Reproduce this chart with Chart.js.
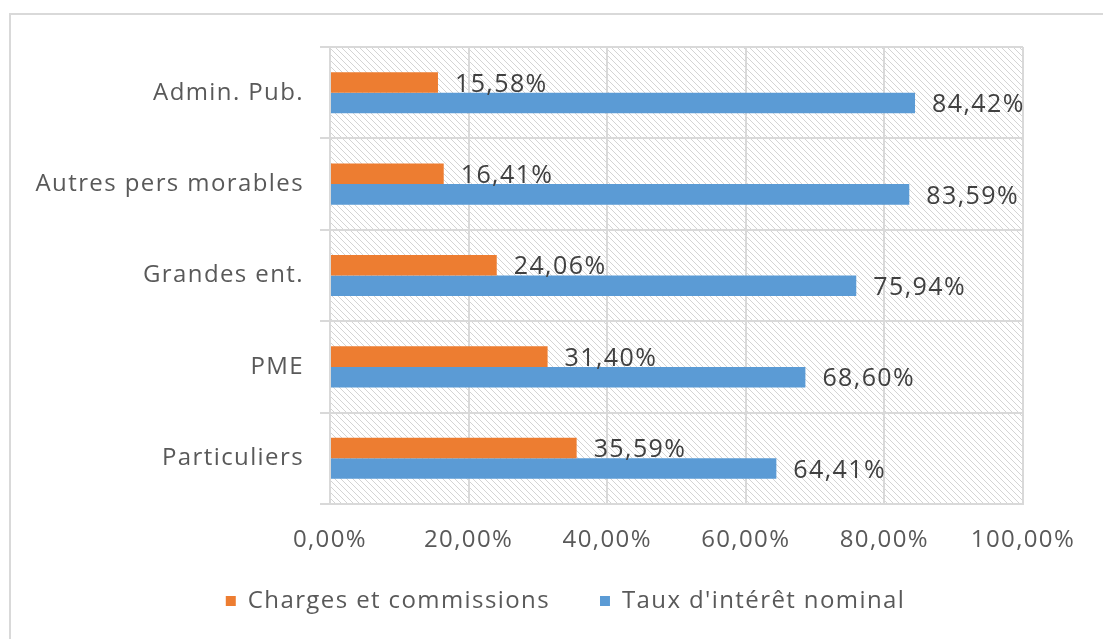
<!DOCTYPE html>
<html>
<head>
<meta charset="utf-8">
<script src="https://cdn.jsdelivr.net/npm/chart.js@4/dist/chart.umd.min.js"></script>
<style>
  html, body { margin: 0; padding: 0; background: #fff; }
  #frame { position: absolute; left: 9px; top: 13px; right: -10px; bottom: -10px;
           border-top: 2px solid #d9d9d9; border-left: 2px solid #d9d9d9; }
  #wrap { position: absolute; left: 0; top: 0; width: 1103px; height: 639px; }
</style>
</head>
<body>
<div id="frame"></div>
<div id="wrap"><canvas id="c"></canvas></div>
<script>
// Données
const categories = ['Admin. Pub.', 'Autres pers morables', 'Grandes ent.', 'PME', 'Particuliers'];
const charges = [15.58, 16.41, 24.06, 31.40, 35.59];
const taux = [84.42, 83.59, 75.94, 68.60, 64.41];
const seriesNames = ['Charges et commissions', "Taux d'intérêt nominal"];
const xTicks = [0, 20, 40, 60, 80, 100];

const FONT = 'Open Sans';
const SPACING = '1.4px';
const pct = (v) => v.toFixed(2).replace('.', ',') + '%';

/* texte un peu plus large, comme dans l'original */
const spacing = {
  id: 'spacing',
  beforeLayout(chart) { chart.ctx.letterSpacing = SPACING; },
  beforeDraw(chart) { chart.ctx.letterSpacing = SPACING; },
};

/* légende recentrée sous le graphique */
const legendPlace = {
  id: 'legendPlace',
  afterLayout(chart) {
    const l = chart.legend;
    l.left += 54; l.right += 54;
    l.top = 539; l.bottom = l.top + l.height;
  },
};

/* fond hachuré de la zone de tracé */
const hatch = {
  id: 'hatch',
  beforeDraw(chart) {
    const { ctx, chartArea: a } = chart;
    const t = document.createElement('canvas');
    t.width = 6; t.height = 6;
    const g = t.getContext('2d');
    g.fillStyle = '#fff';
    g.fillRect(0, 0, 6, 6);
    g.strokeStyle = '#d4d4d4';
    g.lineWidth = 1;
    g.beginPath();
    g.moveTo(-1, -1); g.lineTo(7, 7);
    g.moveTo(-1, 5); g.lineTo(1, 7);
    g.moveTo(5, -1); g.lineTo(7, 1);
    g.stroke();
    ctx.save();
    ctx.fillStyle = ctx.createPattern(t, 'repeat');
    ctx.fillRect(a.left, a.top, a.right - a.left, a.bottom - a.top);
    ctx.restore();
  },
};

/* étiquettes de valeurs au bout des barres */
const valueLabels = {
  id: 'valueLabels',
  afterDatasetsDraw(chart) {
    const { ctx } = chart;
    ctx.save();
    ctx.font = `25px "${FONT}"`;
    ctx.fillStyle = '#404040';
    ctx.textAlign = 'left';
    ctx.textBaseline = 'middle';
    chart.data.datasets.forEach((ds, i) => {
      chart.getDatasetMeta(i).data.forEach((el, j) => {
        ctx.fillText(pct(ds.data[j]), el.x + 17, el.y + 2);
      });
    });
    ctx.restore();
  },
};

new Chart(document.getElementById('c'), {
  type: 'bar',
  data: {
    labels: categories,
    datasets: [
      { label: seriesNames[0], data: charges, backgroundColor: '#ED7D31' },
      { label: seriesNames[1], data: taux, backgroundColor: '#5B9BD5' },
    ],
  },
  options: {
    indexAxis: 'y',
    responsive: true, maintainAspectRatio: false,
    animation: false,
    categoryPercentage: 0.45,
    barPercentage: 1.0,
    layout: { padding: { left: 0, right: 80, top: 47, bottom: 0 } },
    scales: {
      x: {
        min: 0, max: 100,
        afterBuildTicks: (s) => { s.ticks = xTicks.map((v) => ({ value: v })); },
        ticks: { callback: (v) => pct(v), color: '#595959', font: { family: FONT, size: 24 }, padding: 22, maxRotation: 0 },
        grid: { color: '#d9d9d9', lineWidth: 2, drawTicks: false },
        border: { color: '#d9d9d9', width: 2 },
        afterFit: (s) => { s.height = 51; },
      },
      y: {
        ticks: { color: '#595959', font: { family: FONT, size: 24 }, padding: 16 },
        grid: { color: '#d9d9d9', lineWidth: 2, tickLength: 10, offset: true },
        border: { color: '#d9d9d9', width: 2 },
        afterFit: (s) => { s.width = 330; },
      },
    },
    plugins: {
      legend: {
        position: 'bottom',
        labels: { color: '#595959', font: { family: FONT, size: 24 }, boxWidth: 10, boxHeight: 10, padding: 50 },
      },
      tooltip: { enabled: false },
    },
  },
  plugins: [spacing, legendPlace, hatch, valueLabels],
});
</script>
</body>
</html>
